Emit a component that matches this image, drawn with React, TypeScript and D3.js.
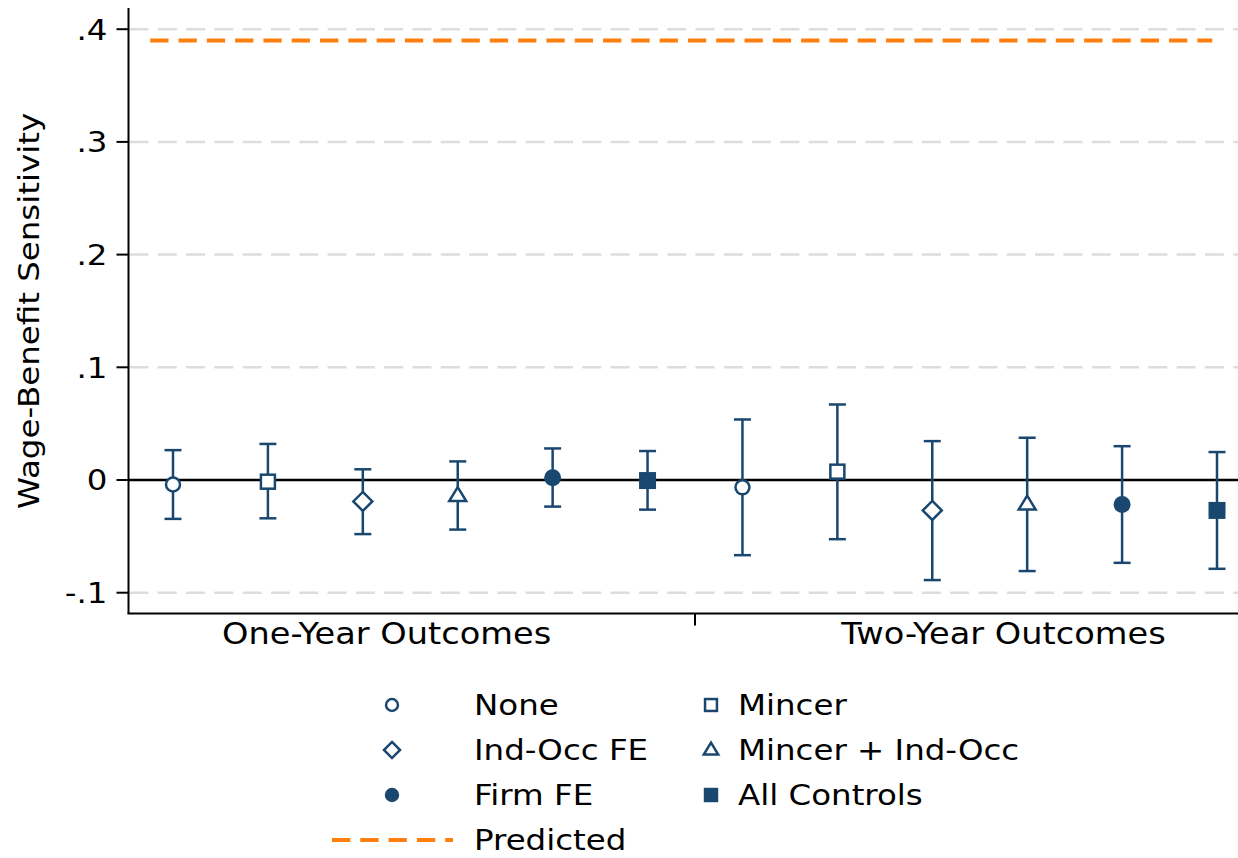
import React from "react";
import * as d3 from "d3";

const specs = ["None", "Mincer", "Ind-Occ FE", "Mincer + Ind-Occ", "Firm FE", "All Controls"];
const shapes = ["circleO", "squareO", "diamondO", "triangleO", "circle", "square"];
const groups = ["One-Year Outcomes", "Two-Year Outcomes"];
const groupPos = [3.25, 9.75];
const dividerPos = 6.5;

// position index 1..12 (6 per group)
const xIndex = [1, 2, 3, 4, 5, 6, 7, 8, 9, 10, 11, 12];
const estimates = [-0.004, -0.0015, -0.019, -0.014, 0.002, -0.0005, -0.0065, 0.0074, -0.027, -0.0215, -0.0218, -0.027];
const upper = [0.0265, 0.032, 0.0095, 0.0165, 0.028, 0.0257, 0.0537, 0.067, 0.0345, 0.0375, 0.030, 0.0248];
const lower = [-0.0345, -0.034, -0.048, -0.044, -0.0236, -0.0263, -0.0667, -0.0525, -0.0888, -0.0808, -0.0735, -0.0788];

const predicted = 0.39;
const predictedX = [0.76, 11.95];

const yTicks = [-0.1, 0, 0.1, 0.2, 0.3, 0.4];
const yTickLabels = ["-.1", "0", ".1", ".2", ".3", ".4"];

const NAVY = "#1a476f";
const ORANGE = "#ff7f0e";
const FONT = "DejaVu Sans, sans-serif";
const FS = 29;
const SX = 1.12;

function T({ x, y, rotate = 0, anchor = "start", dy = "0", fs = FS, children }: any) {
  return (
    <text
      transform={`translate(${x},${y}) rotate(${rotate}) scale(${SX},1)`}
      textAnchor={anchor}
      dy={dy}
      fontSize={fs}
      fill="black"
    >
      {children}
    </text>
  );
}

function Marker({ shape, x, y, s = 1 }: { shape: string; x: number; y: number; s?: number }) {
  const sw = 2.5;
  switch (shape) {
    case "circleO":
      return <circle cx={x} cy={y} r={7 * s} fill="white" stroke={NAVY} strokeWidth={sw} />;
    case "squareO":
      return <rect x={x - 7 * s} y={y - 7 * s} width={14 * s} height={14 * s} fill="white" stroke={NAVY} strokeWidth={sw} />;
    case "diamondO": {
      const r = 9.5 * s;
      return <path d={`M${x},${y - r}L${x + r},${y}L${x},${y + r}L${x - r},${y}Z`} fill="white" stroke={NAVY} strokeWidth={sw} />;
    }
    case "triangleO": {
      const w = 8.5 * s;
      const h = 14 * s;
      return <path d={`M${x},${y - h * 0.62}L${x + w},${y + h * 0.38}L${x - w},${y + h * 0.38}Z`} fill="white" stroke={NAVY} strokeWidth={sw} />;
    }
    case "circle":
      return <circle cx={x} cy={y} r={8.5 * s} fill={NAVY} />;
    case "square":
      return <rect x={x - 8.5 * s} y={y - 8.5 * s} width={17 * s} height={17 * s} fill={NAVY} />;
    default:
      return null;
  }
}

export default function App() {
  const W = 1238;
  const H = 858;
  const left = 128.5;
  const right = 1238;
  const top = 8;
  const bottom = 613.5;

  const x = d3.scaleLinear().domain([1, 12]).range([173, 1217]);
  const y = d3.scaleLinear().domain([-0.1, 0.4]).range([592.7, 29.2]);

  const legendItems = [
    { label: specs[0], shape: shapes[0], col: 0, row: 0 },
    { label: specs[1], shape: shapes[1], col: 1, row: 0 },
    { label: specs[2], shape: shapes[2], col: 0, row: 1 },
    { label: specs[3], shape: shapes[3], col: 1, row: 1 },
    { label: specs[4], shape: shapes[4], col: 0, row: 2 },
    { label: specs[5], shape: shapes[5], col: 1, row: 2 },
  ];
  const rowY = [705, 750, 795, 840];
  const colMarkerX = [392, 711];
  const colTextX = [474, 738];

  return (
    <svg width={W} height={H} style={{ position: "absolute", left: 0, top: 0, background: "white" }} fontFamily={FONT}>
      <rect x={0} y={0} width={W} height={H} fill="white" />
      {/* gridlines */}
      {yTicks.filter((t) => t !== 0).map((t) => (
        <line key={t} x1={left + 1} x2={right} y1={y(t)} y2={y(t)} stroke="#dddddd" strokeWidth={2.5} strokeDasharray="19 9.3" />
      ))}
      {/* zero line */}
      <line x1={left} x2={right} y1={y(0)} y2={y(0)} stroke="black" strokeWidth={2.5} />
      {/* predicted */}
      <line x1={x(predictedX[0])} x2={x(predictedX[1])} y1={y(predicted)} y2={y(predicted)} stroke={ORANGE} strokeWidth={4} strokeDasharray="18.3 10" />
      {/* axes */}
      <line x1={left} x2={left} y1={top} y2={bottom} stroke="black" strokeWidth={2} />
      <line x1={left - 1} x2={right} y1={bottom} y2={bottom} stroke="black" strokeWidth={2} />
      {yTicks.map((t, i) => (
        <g key={t}>
          <line x1={left - 12} x2={left} y1={y(t)} y2={y(t)} stroke="black" strokeWidth={2} />
          <T x={left - 21} y={y(t)} dy="0.36em" anchor="end">{yTickLabels[i]}</T>
        </g>
      ))}
      <line x1={x(dividerPos)} x2={x(dividerPos)} y1={bottom} y2={bottom + 12} stroke="black" strokeWidth={2} />
      {groups.map((g, i) => (
        <T key={g} x={x(groupPos[i])} y={644} anchor="middle" fs={30}>{g}</T>
      ))}
      <T x={39} y={y(0.15)} rotate={-90} anchor="middle">Wage-Benefit Sensitivity</T>
      {/* error bars */}
      {xIndex.map((xi, i) => {
        const cx = x(xi);
        return (
          <g key={i}>
            <line x1={cx} x2={cx} y1={y(upper[i])} y2={y(lower[i])} stroke={NAVY} strokeWidth={2.5} />
            <line x1={cx - 8.5} x2={cx + 8.5} y1={y(upper[i])} y2={y(upper[i])} stroke={NAVY} strokeWidth={2.5} />
            <line x1={cx - 8.5} x2={cx + 8.5} y1={y(lower[i])} y2={y(lower[i])} stroke={NAVY} strokeWidth={2.5} />
            <Marker shape={shapes[i % 6]} x={cx} y={y(estimates[i])} />
          </g>
        );
      })}
      {/* legend */}
      {legendItems.map((it) => (
        <g key={it.label}>
          <Marker shape={it.shape} x={colMarkerX[it.col]} y={rowY[it.row]} s={0.85} />
          <T x={colTextX[it.col]} y={rowY[it.row]} dy="0.36em">{it.label}</T>
        </g>
      ))}
      <line x1={332} x2={453} y1={rowY[3]} y2={rowY[3]} stroke={ORANGE} strokeWidth={4} strokeDasharray="18.3 10" />
      <T x={colTextX[0]} y={rowY[3]} dy="0.36em">Predicted</T>
    </svg>
  );
}
